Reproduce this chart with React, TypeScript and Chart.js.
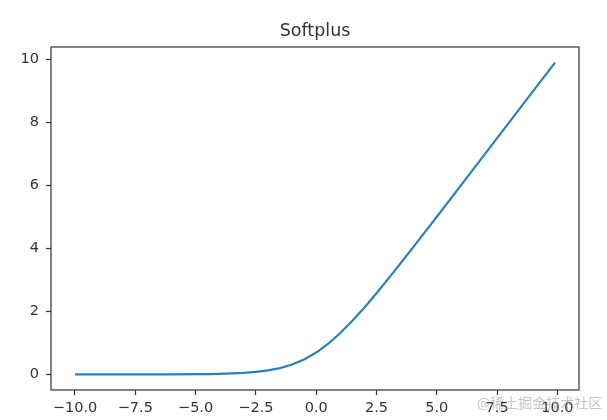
import React, { useEffect, useRef } from "react";
import { Chart, registerables } from "chart.js";

Chart.register(...registerables);

const xValues = [-10, -9, -8, -7, -6, -5, -4.5, -4, -3.5, -3, -2.5, -2, -1.5, -1, -0.5, 0, 0.5, 1, 1.5, 2, 2.5, 3, 3.5, 4, 4.5, 5, 5.5, 6, 7, 8, 9, 9.9];
const yValues = [0.00005, 0.00012, 0.00034, 0.00091, 0.0025, 0.0067, 0.011, 0.0181, 0.0298, 0.0486, 0.0789, 0.1269, 0.2014, 0.3133, 0.4741, 0.6931, 0.9741, 1.3133, 1.7014, 2.1269, 2.5789, 3.0486, 3.5298, 4.0181, 4.5111, 5.0067, 5.5041, 6.0025, 7.0009, 8.0003, 9.0001, 9.9001];
const xTicks = [-10, -7.5, -5, -2.5, 0, 2.5, 5, 7.5, 10];
const yTicks = [0, 2, 4, 6, 8, 10];
const titleText = "Softplus";
const watermark = "@稀土掘金技术社区";

const FONT = "'DejaVu Sans', sans-serif";
const INK = "#333333";

export default function App() {
  const ref = useRef<HTMLCanvasElement | null>(null);

  useEffect(() => {
    if (!ref.current) return;
    const boxPlugin = {
      id: "boxPlugin",
      afterDraw(chart: any) {
        const { ctx, chartArea } = chart;
        ctx.save();
        ctx.strokeStyle = INK;
        ctx.lineWidth = 1.2;
        ctx.strokeRect(chartArea.left, chartArea.top, chartArea.right - chartArea.left, chartArea.bottom - chartArea.top);
        ctx.fillStyle = INK;
        ctx.font = `17.5px ${FONT}`;
        ctx.textAlign = "center";
        ctx.textBaseline = "alphabetic";
        ctx.fillText(titleText, (chartArea.left + chartArea.right) / 2, chartArea.top - 11);
        ctx.fillStyle = "rgba(150,150,150,0.55)";
        ctx.font = `14px 'Noto Sans CJK SC', sans-serif`;
        ctx.textAlign = "left";
        ctx.fillText(watermark, 477, 408);
        ctx.restore();
      },
    };
    const chart = new Chart(ref.current, {
      type: "line",
      data: {
        datasets: [
          {
            data: xValues.map((x, i) => ({ x, y: yValues[i] })),
            borderColor: "#2b7fba",
            borderWidth: 2.2,
            pointRadius: 0,
            tension: 0,
            fill: false,
          },
        ],
      },
      options: {
        animation: false,
        responsive: false,
        events: [],
        layout: { padding: { top: 47, right: 28, left: 0, bottom: 0 } },
        plugins: { legend: { display: false }, tooltip: { enabled: false }, title: { display: false } },
        scales: {
          x: {
            type: "linear",
            min: -10.995,
            max: 10.895,
            afterBuildTicks(scale: any) {
              scale.ticks = xTicks.map((v) => ({ value: v }));
            },
            afterFit(scale: any) {
              scale.height = 30;
            },
            border: { display: false },
            grid: { drawOnChartArea: false, tickLength: 5, color: INK, tickWidth: 1.2 },
            ticks: {
              color: INK,
              font: { family: FONT, size: 14.5 },
              padding: 5,
              maxRotation: 0,
              autoSkip: false,
              callback: (v: any) => Number(v).toFixed(1).replace("-", "\u2212"),
            },
          },
          y: {
            type: "linear",
            min: -0.495,
            max: 10.395,
            afterBuildTicks(scale: any) {
              scale.ticks = yTicks.map((v) => ({ value: v }));
            },
            afterFit(scale: any) {
              scale.width = 51;
            },
            border: { display: false },
            grid: { drawOnChartArea: false, tickLength: 5, color: INK, tickWidth: 1.2 },
            ticks: {
              color: INK,
              font: { family: FONT, size: 14.5 },
              padding: 7,
              autoSkip: false,
              callback: (v: any) => String(v),
            },
          },
        },
      },
      plugins: [boxPlugin],
    });
    return () => chart.destroy();
  }, []);

  return (
    <div style={{ position: "fixed", left: 0, top: 0, width: 607, height: 420, background: "#fff" }}>
      <canvas ref={ref} width={607} height={420} style={{ width: 607, height: 420, display: "block" }} />
    </div>
  );
}
